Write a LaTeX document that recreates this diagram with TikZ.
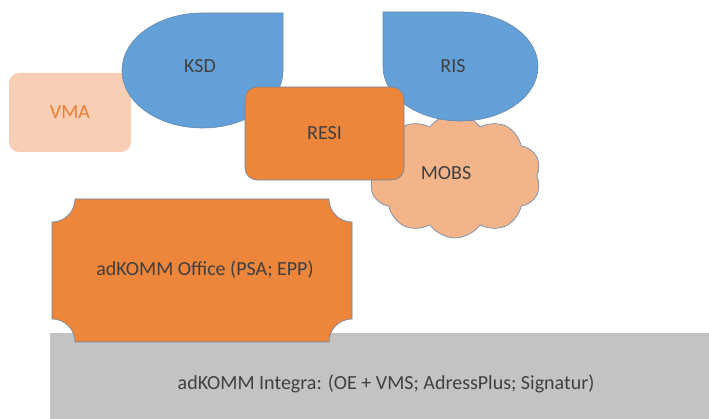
\documentclass[tikz,border=0pt]{standalone}
\usepackage{fontspec}
\setmainfont{Carlito}
\usetikzlibrary{shapes.symbols}
\definecolor{shapeblue}{RGB}{99,160,215}
\definecolor{shapeorange}{RGB}{237,133,58}
\definecolor{edgeblue}{RGB}{100,135,175}
\definecolor{vmafill}{RGB}{248,206,181}
\definecolor{vmatext}{RGB}{237,125,49}
\definecolor{mobsfill}{RGB}{244,180,137}
\definecolor{basegray}{RGB}{195,195,195}
\definecolor{txtgray}{RGB}{64,64,64}
\tikzset{
  lbl/.style={text=txtgray,font=\fontsize{20}{24}\selectfont},
  outl/.style={draw=edgeblue,line width=0.6pt}
}
\begin{document}
\begin{tikzpicture}[x=1pt,y=1pt]
\useasboundingbox (0,0) rectangle (709,419);
% VMA
\node[fill=vmafill,rounded corners=10pt,minimum width=122,minimum height=79,lbl,text=vmatext] (vma) at (70,306.5) {VMA};
% KSD
\draw[outl,fill=shapeblue] (202.5,406) -- (283,406) -- (283,348.5) arc[start angle=0,end angle=-270,x radius=80.5,y radius=57.5] -- cycle;
\node[lbl] (ksd) at (200,353) {KSD};
% MOBS
\node[cloud,cloud puffs=10,cloud puff arc=110,aspect=1.5,outl,fill=mobsfill,minimum width=172,minimum height=124,inner sep=0pt] (mobscloud) at (455,243) {};
\node[lbl] (mobs) at (446,246) {MOBS};
% RIS
\draw[outl,fill=shapeblue] (460.5,407) -- (383,407) -- (383,352.5) arc[start angle=180,end angle=450,x radius=77.5,y radius=54.5] -- cycle;
\node[lbl] (ris) at (453,353) {RIS};
% RESI
\node[outl,fill=shapeorange,rounded corners=12pt,minimum width=159,minimum height=93,lbl] (resi) at (324.5,285.5) {RESI};
% Integra
\fill[basegray] (50,0) rectangle (709,86);
\node[lbl] (integra) at (386,35) {adKOMM Integra: (OE + VMS; AdressPlus; Signatur)};
% Office
\draw[outl,fill=shapeorange] (75,220) -- (329,220) arc[start angle=180,end angle=270,radius=23]
  -- (352,100) arc[start angle=90,end angle=180,radius=23]
  -- (75,77) arc[start angle=0,end angle=90,radius=23]
  -- (52,197) arc[start angle=270,end angle=360,radius=23] -- cycle;
\node[lbl] (office) at (205,149) {adKOMM Office (PSA; EPP)};
\end{tikzpicture}
\end{document}
